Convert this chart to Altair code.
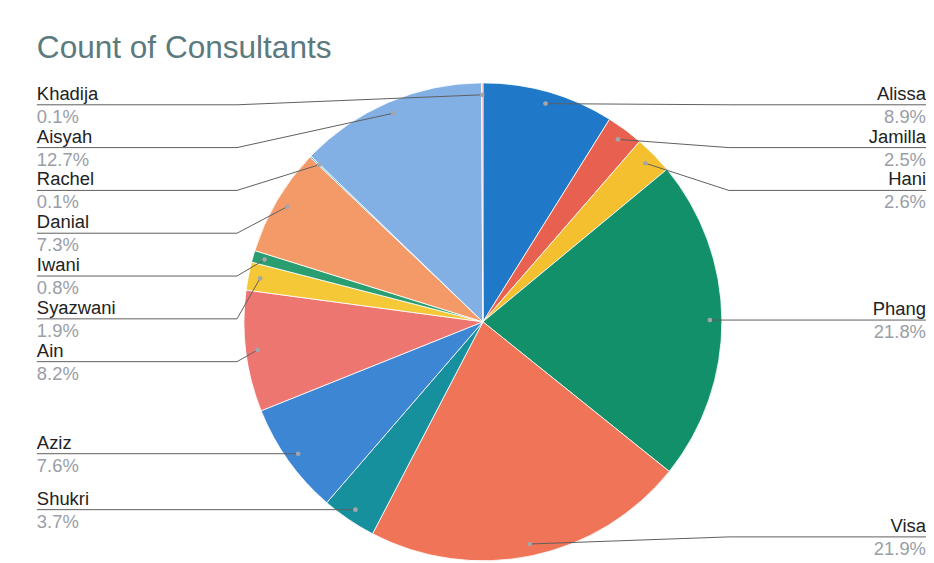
import math
import altair as alt
import pandas as pd

# ---- data ----
names = ["Alissa", "Jamilla", "Hani", "Phang", "Visa", "Shukri", "Aziz",
         "Ain", "Syazwani", "Iwani", "Danial", "Rachel", "Aisyah", "Khadija"]
values = [8.9, 2.5, 2.6, 21.8, 21.9, 3.7, 7.6, 8.2, 1.9, 0.8, 7.3, 0.1, 12.7, 0.1]
pct_labels = ["8.9%", "2.5%", "2.6%", "21.8%", "21.9%", "3.7%", "7.6%",
              "8.2%", "1.9%", "0.8%", "7.3%", "0.1%", "12.7%", "0.1%"]
colors = ["#1f78c8", "#e8604f", "#f4c030", "#12906a", "#f07458", "#16909c",
          "#3d86d4", "#ee7670", "#f5c838", "#2a9e70", "#f49a68", "#5fbcc4",
          "#82b0e4", "#f0a098"]
title_text = "Count of Consultants"

# ---- layout constants (pixels in chart coordinates) ----
W, H = 922, 553
CX, CY = 477, 314
R = 240
RD = 228          # radius of the label anchor dots
KNEE = 247        # horizontal distance of leader-line knee from centre
LEFT_X, RIGHT_X = 29, 922
SPACING, MIN_Y, MAX_Y = 43, 96, 530

total = sum(values)
rows = []
cum = 0.0
for i, (n, v, p) in enumerate(zip(names, values, pct_labels)):
    mid = (cum + v / 2) / total * 2 * math.pi
    cum += v
    dx = CX + RD * math.sin(mid)
    dy = CY - RD * math.cos(mid)
    side = "right" if math.sin(mid) > 0 else "left"
    rows.append(dict(idx=i, name=n, value=v, pct=p, dot_x=dx, dot_y=dy, side=side))
df = pd.DataFrame(rows)

# simple label collision avoidance per side
df["label_y"] = 0.0
for side in ["left", "right"]:
    sub = df[df.side == side].sort_values("dot_y")
    prev = MIN_Y - SPACING
    for ix, r in sub.iterrows():
        y = max(r.dot_y, prev + SPACING, MIN_Y)
        y = min(y, MAX_Y)
        df.loc[ix, "label_y"] = y
        prev = y
df["edge_x"] = df.side.map({"left": LEFT_X, "right": RIGHT_X})
df["knee_x"] = df.side.map({"left": CX - KNEE, "right": CX + KNEE})

line_rows = []
for _, r in df.iterrows():
    line_rows.append(dict(name=r["name"], k=0, x=r.edge_x, y=r.label_y))
    line_rows.append(dict(name=r["name"], k=1, x=r.knee_x, y=r.label_y))
    line_rows.append(dict(name=r["name"], k=2, x=r.dot_x, y=r.dot_y))
lines_df = pd.DataFrame(line_rows)

xs = alt.Scale(domain=[0, W], nice=False, zero=False)
ys = alt.Scale(domain=[0, H], nice=False, zero=False, reverse=True)
FONT = "Liberation Sans"

pie = alt.Chart(df).mark_arc(outerRadius=R, stroke="#ffffff", strokeWidth=0.8).encode(
    theta=alt.Theta("value:Q", stack=True),
    color=alt.Color("name:N", scale=alt.Scale(domain=names, range=colors), legend=None),
    order=alt.Order("idx:Q", sort="ascending"),
    x=alt.value(CX),
    y=alt.value(CY),
)

leaders = alt.Chart(lines_df).mark_line(color="#5f5f5f", strokeWidth=1).encode(
    x=alt.X("x:Q", scale=xs, axis=None),
    y=alt.Y("y:Q", scale=ys, axis=None),
    detail="name:N",
    order="k:Q",
)

dots = alt.Chart(df).mark_circle(size=22, color="#a3a7ab", opacity=1).encode(
    x=alt.X("dot_x:Q", scale=xs, axis=None),
    y=alt.Y("dot_y:Q", scale=ys, axis=None),
)

def side_text(side, align):
    base = alt.Chart(df).transform_filter(alt.datum.side == side)
    nm = base.mark_text(align=align, baseline="alphabetic", dy=-5, font=FONT,
                        fontSize=18.5, color="#222222").encode(
        x=alt.X("edge_x:Q", scale=xs, axis=None),
        y=alt.Y("label_y:Q", scale=ys, axis=None),
        text="name:N",
    )
    pc = base.mark_text(align=align, baseline="alphabetic", dy=18, font=FONT,
                        fontSize=18.5, color="#9a9ea6").encode(
        x=alt.X("edge_x:Q", scale=xs, axis=None),
        y=alt.Y("label_y:Q", scale=ys, axis=None),
        text="pct:N",
    )
    return nm + pc

title = alt.Chart(pd.DataFrame({"t": [title_text]})).mark_text(
    align="left", baseline="alphabetic", font=FONT, fontSize=31.7, color="#5b7a7e"
).encode(x=alt.value(LEFT_X), y=alt.value(49), text="t:N")

chart = alt.layer(
    pie, leaders, dots, side_text("left", "left"), side_text("right", "right"), title
).properties(
    width=W, height=H, padding=0, autosize=alt.AutoSizeParams(type="none")
).configure_view(stroke=None)

chart.save("out.html", embed_options={"renderer": "svg", "actions": False})
